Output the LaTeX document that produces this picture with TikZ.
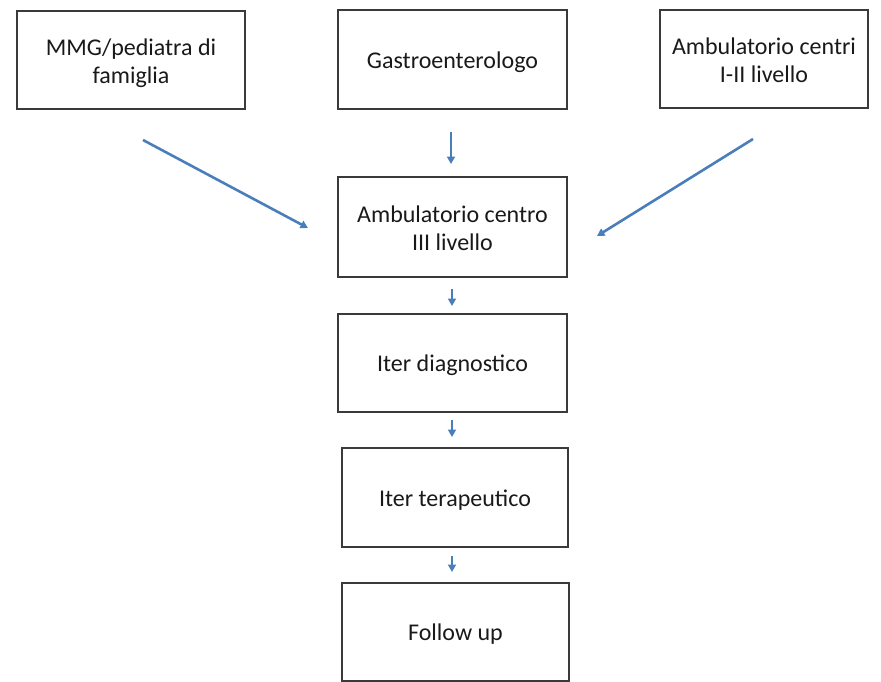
\documentclass[tikz,border=0pt]{standalone}
\usepackage{fontspec}
\setmainfont{Carlito}
\usetikzlibrary{arrows.meta}
\definecolor{arrowblue}{HTML}{4A7EBB}
\definecolor{boxline}{HTML}{3A3A3A}
\begin{document}
\begin{tikzpicture}[x=1pt,y=-1pt,
  box/.style={draw=boxline,line width=1.5pt,rectangle,inner sep=0pt,
    font=\fontsize{24}{28}\selectfont,align=center,text=black!90},
  oneline/.style={box,text height=17pt,text depth=0pt},
  twoline/.style={box,text height=46pt,text depth=0pt},
  link/.style={draw=arrowblue,line width=2.6pt,
    -{Triangle[length=7.5pt,width=8pt]}}]
\useasboundingbox (0,0) rectangle (881,681);
% top row of referring services
\node[twoline,minimum width=228pt,minimum height=98pt] (mmg) at (131,60) {MMG/pediatra di\\famiglia};
\node[oneline,minimum width=229pt,minimum height=99pt] (gastro) at (452.5,59.5) {Gastroenterologo};
\node[twoline,minimum width=208pt,minimum height=98pt] (amb12) at (764,59) {Ambulatorio centri\\I-II livello};
% central pathway
\node[twoline,minimum width=229pt,minimum height=100pt] (amb3) at (452.5,227) {Ambulatorio centro\\III livello};
\node[oneline,minimum width=229pt,minimum height=98pt] (diag) at (452.5,363) {Iter diagnostico};
\node[oneline,minimum width=226pt,minimum height=99pt] (tera) at (455,497.5) {Iter terapeutico};
\node[oneline,minimum width=227pt,minimum height=98pt] (follow) at (455.5,632) {Follow up};
% free arrow ends
\coordinate (l0) at (143,140);
\coordinate (l1) at (308,228);
\coordinate (r0) at (753,139);
\coordinate (r1) at (597,236);
\coordinate (g0) at (451,132);
\coordinate (g1) at (451,164);
\coordinate (a0) at (452,289);
\coordinate (a1) at (452,306);
\coordinate (d0) at (452,420);
\coordinate (d1) at (452,437);
\coordinate (t0) at (452,556);
\coordinate (t1) at (452,572);
\draw[link] (l0) -- (l1);
\draw[link] (r0) -- (r1);
\draw[link] (g0) -- (g1);
\draw[link] (a0) -- (a1);
\draw[link] (d0) -- (d1);
\draw[link] (t0) -- (t1);
\end{tikzpicture}
\end{document}
